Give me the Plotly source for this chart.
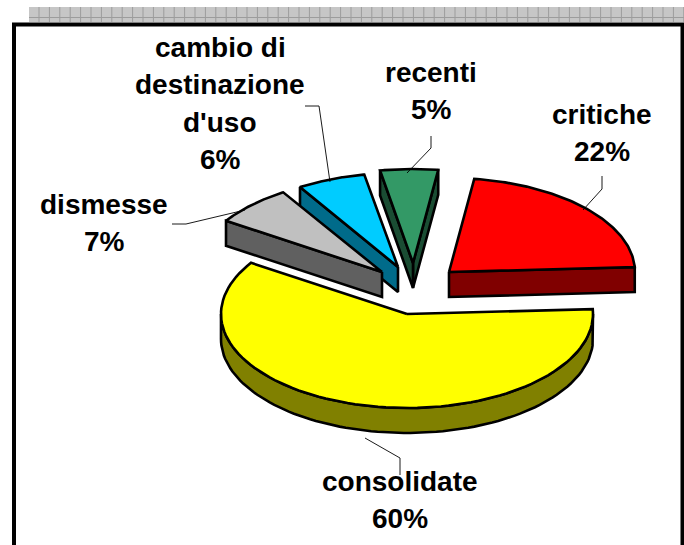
import numpy as np
import plotly.graph_objects as go

# Data
categories = ["critiche", "recenti", "cambio di destinazione d'uso", "dismesse", "consolidate"]
values = [22, 5, 6, 7, 60]
top_colors = ["#FF0000", "#339966", "#00CCFF", "#C0C0C0", "#FFFF00"]
side_colors = ["#800000", "#1A4D33", "#006B8A", "#606060", "#808000"]

# Layout of the exploded 3-D look (pixel space)
apex_x = [449, 413, 398, 382, 407]
apex_y = [272, 263, 267, 272, 314]
RX, RY, DEPTH = 186, 94, 25
START_ANGLE = 3.0

label_lines = [["critiche"], ["recenti"], ["cambio di", "destinazione", "d'uso"], ["dismesse"], ["consolidate"]]
label_x = [602, 431, 220, 104, 400]
label_y = [114, 72, 47, 204, 481]
LINE_STEP = 37.6
leader_x = [[583, 602, 602], [407, 431, 431], [330, 319, 305], [245, 186, 172], [365, 400, 400]]
leader_y = [[210, 189, 176], [173, 148, 136], [182, 106, 106], [210, 224, 224], [438, 458, 475]]

W, H = 684, 545
fig = go.Figure()


def poly(xs, ys, fill):
    fig.add_trace(go.Scatter(x=list(xs) + [xs[0]], y=list(ys) + [ys[0]], mode="lines", fill="toself",
                             fillcolor=fill, line=dict(color="black", width=2.6),
                             hoverinfo="skip", showlegend=False))


# Angular spans follow directly from the values
spans = {}
a = START_ANGLE
for i, v in enumerate(values):
    spans[i] = (a, a + v * 3.6)
    a += v * 3.6


def arc(i, t0, t1):
    t = np.radians(np.linspace(t0, t1, 90))
    return apex_x[i] + RX * np.cos(t), apex_y[i] - RY * np.sin(t)


def draw_slice(i):
    t0, t1 = spans[i]
    cx, cy = apex_x[i], apex_y[i]
    ax, ay = arc(i, t0, t1)
    # straight cut walls, drawn when they face the viewer
    for tx, ty, sign in [(ax[0], ay[0], 1), (ax[-1], ay[-1], -1)]:
        if sign * (tx - cx) > 0:
            poly([cx, tx, tx, cx], [cy, ty, ty + DEPTH, cy + DEPTH], side_colors[i])
    # outer rim, front half only
    for lo, hi in [(t0, t1), (t0 - 360, t1 - 360)]:
        lo2, hi2 = max(lo, -180), min(hi, 0)
        if hi2 > lo2:
            rx, ry = arc(i, lo2, hi2)
            poly(list(rx) + list(rx[::-1]), list(ry) + list(ry[::-1] + DEPTH), side_colors[i])
    poly([cx] + list(ax), [cy] + list(ay), top_colors[i])


for i in range(len(values)):
    draw_slice(i)

# Leader lines
for lx, ly in zip(leader_x, leader_y):
    fig.add_trace(go.Scatter(x=lx, y=ly, mode="lines", line=dict(color="black", width=0.9),
                             hoverinfo="skip", showlegend=False))

# Labels
annotations = []
for lines, v, x, y in zip(label_lines, values, label_x, label_y):
    for k, txt in enumerate(lines + [f"{v}%"]):
        annotations.append(dict(x=x, y=y + k * LINE_STEP, xref="x", yref="y", text=f"<b>{txt}</b>",
                                showarrow=False, xanchor="center", yanchor="middle",
                                font=dict(family="Liberation Sans", size=28, color="black")))

# Hatched strip and frame
shapes = [dict(type="rect", x0=29, x1=W, y0=7, y1=22, fillcolor="#C6C6C6", line=dict(width=0), layer="below")]
for gx in np.arange(39, W, 10.4):
    shapes.append(dict(type="line", x0=gx, x1=gx, y0=7, y1=22, line=dict(color="#9C9C9C", width=1), layer="below"))
shapes.append(dict(type="line", x0=29, x1=W, y0=17.5, y1=17.5, line=dict(color="#9C9C9C", width=1), layer="below"))
shapes.append(dict(type="rect", x0=14, x1=682.5, y0=24.5, y1=H + 20, fillcolor="rgba(0,0,0,0)",
                   line=dict(color="black", width=4), layer="below"))

fig.update_layout(width=W, height=H, margin=dict(l=0, r=0, t=0, b=0), paper_bgcolor="white", plot_bgcolor="white",
                  xaxis=dict(range=[0, W], visible=False, fixedrange=True),
                  yaxis=dict(range=[H, 0], visible=False, fixedrange=True),
                  showlegend=False, shapes=shapes, annotations=annotations)
fig.write_html("out.html", config={"displayModeBar": False},
               post_script="document.body.style.margin='0';document.body.style.overflow='hidden';")
